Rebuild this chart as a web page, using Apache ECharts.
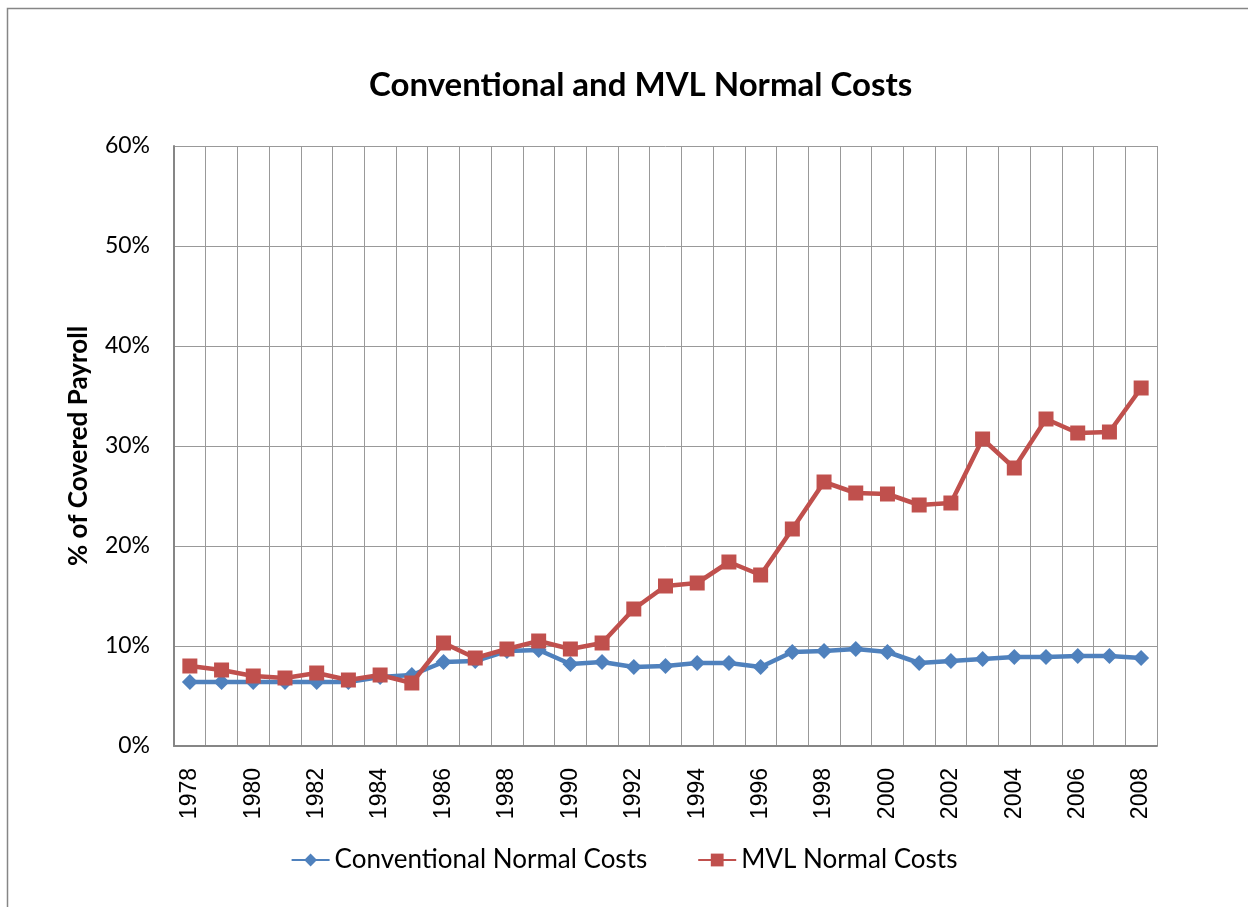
<!DOCTYPE html>
<html>
<head>
<meta charset="utf-8">
<title>Conventional and MVL Normal Costs</title>
<script src="https://cdn.jsdelivr.net/npm/echarts@6/dist/echarts.min.js"></script>
<style>
  html, body { margin: 0; padding: 0; background: #fff; }
  #chart { width: 1248px; height: 907px; }
</style>
</head>
<body>
<div id="chart"></div>
<script>
// years on the x axis
var years = ['1978', '1979', '1980', '1981', '1982', '1983', '1984', '1985', '1986', '1987',
  '1988', '1989', '1990', '1991', '1992', '1993', '1994', '1995', '1996', '1997',
  '1998', '1999', '2000', '2001', '2002', '2003', '2004', '2005', '2006', '2007', '2008']

// % of covered payroll
var conventional = [6.4, 6.4, 6.4, 6.4, 6.4, 6.4, 6.9, 7.1, 8.4, 8.5,
  9.5, 9.6, 8.2, 8.4, 7.9, 8.0, 8.3, 8.3, 7.9, 9.4,
  9.5, 9.7, 9.4, 8.3, 8.5, 8.7, 8.9, 8.9, 9.0, 9.0, 8.8]
var mvl = [8.0, 7.6, 7.0, 6.8, 7.3, 6.6, 7.1, 6.3, 10.3, 8.8,
  9.7, 10.5, 9.7, 10.3, 13.7, 16.0, 16.3, 18.4, 17.1, 21.7,
  26.4, 25.3, 25.2, 24.1, 24.3, 30.7, 27.8, 32.7, 31.3, 31.4, 35.8]

var yTicks = [0, 10, 20, 30, 40, 50, 60]

var chart = echarts.init(document.getElementById('chart'))

var option = {
  backgroundColor: '#fff',
  animation: false,
  color: ['#4F81BD', '#C0504D'],
  title: {
    text: 'Conventional and MVL Normal Costs',
    left: 364,
    top: 64,
    textStyle: {
      fontFamily: 'Lato',
      fontWeight: 'bold',
      fontSize: 33,
      color: '#000'
    }
  },
  graphic: [{ // outer chart border
    type: 'rect',
    shape: { x: 7.5, y: 8.5, width: 1260, height: 920 },
    style: { fill: 'none', stroke: '#868686', lineWidth: 1.5 },
    silent: true
  }],
  legend: {
    bottom: 29,
    left: 'center',
    itemWidth: 38,
    itemHeight: 16,
    itemGap: 50,
    textStyle: {
      fontFamily: 'Lato',
      fontSize: 26,
      color: '#000'
    },
    data: ['Conventional Normal Costs', 'MVL Normal Costs']
  },
  grid: {
    left: 174,
    right: 91,
    top: 146,
    bottom: 161
  },
  xAxis: {
    type: 'category',
    data: years,
    boundaryGap: true,
    axisLine: { lineStyle: { color: '#868686', width: 2 } },
    axisTick: { show: false },
    splitLine: { show: true, interval: 0, lineStyle: { color: '#999', width: 1 } },
    axisLabel: {
      interval: 1,
      rotate: 90,
      margin: 22,
      fontFamily: 'Liberation Sans',
      fontSize: 23,
      color: '#000'
    }
  },
  yAxis: {
    type: 'value',
    min: yTicks[0],
    max: yTicks[yTicks.length - 1],
    interval: 10,
    name: '% of Covered Payroll',
    nameLocation: 'middle',
    nameGap: 82,
    nameRotate: 90,
    nameTextStyle: {
      fontFamily: 'Lato',
      fontWeight: 'bold',
      fontSize: 26,
      color: '#000'
    },
    axisLine: { show: true, lineStyle: { color: '#868686', width: 2 } },
    axisTick: { show: false },
    splitLine: { lineStyle: { color: '#999', width: 1 } },
    axisLabel: {
      formatter: '{value}%',
      margin: 24,
      fontFamily: 'Lato',
      fontSize: 23,
      color: '#000'
    }
  },
  series: [
    {
      name: 'Conventional Normal Costs',
      type: 'line',
      data: conventional,
      symbol: 'diamond',
      symbolSize: 16,
      lineStyle: { width: 4.5 },
      z: 2
    },
    {
      name: 'MVL Normal Costs',
      type: 'line',
      data: mvl,
      symbol: 'rect',
      symbolSize: 15,
      lineStyle: { width: 4.5 },
      z: 3
    }
  ]
}

chart.setOption(option)
</script>
</body>
</html>
